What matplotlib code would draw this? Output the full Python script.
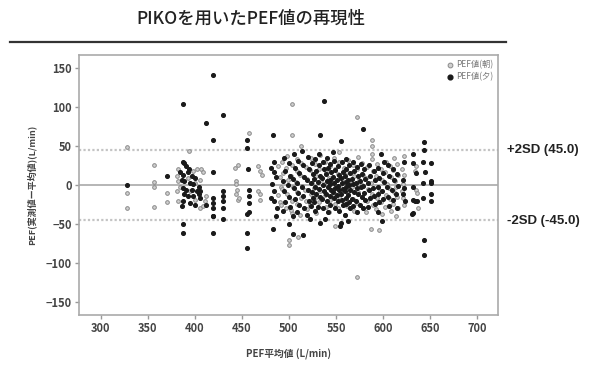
import matplotlib.pyplot as plt
from matplotlib.lines import Line2D

plt.rcParams['font.family'] = ['Noto Sans CJK JP', 'DejaVu Sans']

am_points = [  # PEF値(朝)
    (328, 49), (328, -10), (328, -29),
    (357, 26), (357, 4), (357, -2), (357, -28),
    (371, -10), (371, -22),
    (382, 20), (381, 11), (382, 5), (384, -2), (381, -8), (382, -21),
    (393, 9), (398, 18), (402, 20), (407, 20), (409, 16), (405, 7), (400, 3),
    (395, -8), (400, -19), (405, -29), (411, -21), (412, -14), (409, -27), (394, 44),
    (443, 22), (446, 26), (444, 5), (444, 1), (445, -6), (444, -12), (446, -19), (447, -16),
    (458, 67), (467, 24), (469, 18), (471, 13), (467, -8), (469, -12), (469, -19),
    (488, 24), (490, 10), (491, -3), (488, -13), (490, -22),
    (503, 104), (503, 64), (513, 50), (503, -36), (500, -70), (500, -77), (510, -66),
    (493, 30), (494, 15), (493, -5), (492, -25),
    (498, 37), (497, 22), (499, 6), (498, -12), (497, -30),
    (503, 26), (502, 11), (504, -3), (503, -20), (502, -32),
    (508, 33), (509, 18), (507, 4), (508, -9), (509, -24),
    (513, 28), (512, 13), (514, -1), (513, -16), (512, -38),
    (518, 23), (519, 8), (517, -6), (518, -21), (519, -31),
    (523, 34), (522, 19), (524, 2), (523, -11), (522, -26),
    (528, 27), (529, 12), (527, -4), (528, -17), (529, -36),
    (533, 38), (532, 21), (534, 7), (533, -8), (532, -22),
    (538, 30), (539, 16), (537, 1), (538, -13), (539, -28),
    (543, 24), (542, 9), (544, -5), (543, -19), (542, -34),
    (548, 35), (549, 20), (547, 4), (548, -10), (549, -24), (549, -52),
    (553, 29), (552, 14), (554, -2), (553, -15), (552, -30), (553, 42),
    (558, 22), (559, 8), (557, -7), (558, -21), (559, -38),
    (563, 32), (562, 17), (564, 3), (563, -12), (562, -27),
    (568, 26), (569, 11), (567, -3), (568, -18), (569, -33),
    (573, 36), (572, 20), (574, 6), (573, -9), (572, -23), (572, 87), (572, -117),
    (578, 28), (579, 13), (577, 0), (578, -15), (579, -29),
    (583, 23), (582, 9), (584, -5), (583, -20), (582, -35),
    (588, 33), (589, 18), (587, 2), (588, -11), (589, -26), (588, 58), (588, 50), (588, 39),
    (587, -56), (596, -57),
    (593, 27), (592, 12), (594, -3), (593, -17), (592, -31),
    (598, 21), (599, 7), (597, -8), (598, -22), (599, -37),
    (603, 30), (602, 16), (604, 1), (603, -13), (602, -28),
    (607, 24), (608, 10), (606, -4), (607, -18), (608, -33),
    (611, 34), (610, 19), (612, 5), (611, -9), (610, -24), (614, -40),
    (615, 27), (616, 13), (614, -2), (615, -15), (616, -29),
    (622, 37), (620, 20), (622, 13), (621, 1), (620, -8), (621, -16), (622, -25),
    (635, 24), (634, 18), (635, -6), (636, -10), (637, -29),
]

pm_points = [  # PEF値(夕)
    (328, 0), (371, 11),
    (387, 30), (389, 28), (391, 24), (394, 20), (384, 16), (388, 13), (393, 16),
    (397, 11), (400, 9), (386, 7), (389, 5), (395, 3), (398, 1), (404, -2),
    (388, -4), (391, -6), (397, -6), (402, -8), (405, -8), (389, -12), (393, -14),
    (398, -14), (404, -12), (405, -16), (388, -21), (395, -23), (386, -27), (400, -25),
    (388, 103), (388, -50), (388, -61),
    (419, 141), (412, 79), (419, 57), (419, 16), (419, -16), (419, -23), (419, -29),
    (419, -40), (412, -25), (419, -61), (419, -39),
    (430, 89), (430, -8), (430, -14), (430, -21), (430, -29), (430, -44),
    (455, 57), (455, 47), (456, 21), (458, -6), (458, -14), (458, -23), (458, -35),
    (455, -37), (455, -61), (455, -81),
    (483, 64), (481, 22), (484, 29), (484, 16), (486, 10), (482, 1), (484, -8),
    (481, -16), (484, -21), (487, -29), (486, -40), (483, -56),
    (500, -50), (504, -62), (515, -64), (522, -44), (533, -48), (538, -44),
    (537, 107), (533, 64), (555, 56), (579, 71), (598, 39), (555, -48), (563, -46),
    (554, -52), (599, -46), (632, -36),
    (495, 35), (496, 18), (494, 5), (495, -8), (496, -22), (494, -33),
    (500, 28), (501, 12), (499, 0), (500, -15), (501, -28),
    (505, 40), (506, 22), (504, 8), (505, -4), (506, -18), (504, -40),
    (510, 31), (511, 15), (509, 2), (510, -10), (511, -25), (509, -35),
    (515, 25), (516, 10), (514, -2), (515, -14), (516, -30), (514, 44),
    (520, 36), (521, 20), (519, 6), (520, -6), (521, -20), (519, -38),
    (524, 28), (525, 14), (523, 3), (524, -9), (525, -16), (523, -27),
    (528, 33), (529, 18), (527, 8), (528, -2), (529, -12), (527, -22), (528, -33),
    (532, 25), (533, 12), (531, 4), (532, -5), (533, -15), (531, -28), (532, 40),
    (536, 30), (537, 20), (535, 9), (536, 0), (537, -8), (535, -18), (536, -30),
    (540, 35), (541, 22), (539, 14), (540, 5), (541, -3), (539, -11), (540, -20), (541, -35),
    (544, 27), (545, 16), (543, 7), (544, 1), (545, -6), (543, -14), (544, -25),
    (548, 31), (549, 19), (547, 10), (548, 3), (549, -4), (547, -9), (548, -17), (549, -29), (547, 42),
    (552, 24), (553, 13), (551, 6), (552, -1), (553, -7), (551, -13), (552, -21), (553, -33),
    (556, 29), (557, 17), (555, 9), (556, 2), (557, -5), (555, -11), (556, -19), (557, -26),
    (560, 33), (561, 21), (559, 12), (560, 4), (561, -2), (559, -8), (560, -16), (561, -24), (559, -38),
    (564, 26), (565, 15), (563, 7), (564, 0), (565, -6), (563, -13), (564, -22), (565, -30),
    (568, 30), (569, 18), (567, 8), (568, 1), (569, -9), (567, -18), (568, -27),
    (572, 23), (573, 11), (571, 3), (572, -4), (573, -12), (571, -21), (572, -34),
    (576, 27), (577, 14), (575, 5), (576, -3), (577, -15), (575, -25),
    (580, 20), (581, 8), (579, -1), (580, -10), (581, -19), (579, -29),
    (585, 25), (586, 12), (584, 2), (585, -7), (586, -17), (584, -28),
    (590, 18), (591, 6), (589, -4), (590, -14), (591, -24),
    (595, 22), (596, 9), (594, -2), (595, -11), (596, -22), (594, -34),
    (600, 15), (601, 4), (599, -8), (600, -18), (601, 30),
    (605, 26), (606, 12), (604, -3), (605, -15), (606, -27),
    (610, 20), (611, 7), (609, -6), (610, -19),
    (615, 14), (616, -1), (614, -12), (615, -30),
    (622, 30), (621, 7), (622, -4), (621, -12), (623, -21),
    (632, 40), (632, 28), (642, 29), (651, 28), (644, 17), (635, 15),
    (632, -2), (642, 3), (651, 5), (651, 2), (632, -19), (634, -21), (636, -20),
    (642, -16), (651, -12), (651, -21), (631, -37),
    (643, 55), (643, 45), (643, -70), (643, -89),
]

xticks = [300, 350, 400, 450, 500, 550, 600, 650, 700]
yticks = [-150, -100, -50, 0, 50, 100, 150]
sd2 = 45.0

am_x, am_y = zip(*am_points)
pm_x, pm_y = zip(*pm_points)

fig = plt.figure(figsize=(5.98, 3.70), dpi=100)
ax = fig.add_axes([0.132, 0.149, 0.701, 0.702])

ax.axhline(0, color='#b0b0b0', lw=1.3, zorder=1)
ax.axhline(sd2, color='#c4c4c4', lw=1.6, ls=(0, (1, 1)), zorder=1)
ax.axhline(-sd2, color='#c4c4c4', lw=1.6, ls=(0, (1, 1)), zorder=1)

ax.scatter(am_x, am_y, s=7, facecolor='#d0d0d0', edgecolor='#8a8a8a', linewidth=0.7,
           zorder=3, label='PEF値(朝)')
ax.scatter(pm_x, pm_y, s=7, color='#1a1a1a', zorder=4, label='PEF値(夕)')

ax.set_xlim(277, 722)
ax.set_ylim(-166, 166)
ax.set_xticks(xticks)
ax.set_yticks(yticks)
ax.tick_params(length=3, width=1, color='#999999', labelsize=8, labelcolor='#444444', pad=2)
for lab in ax.get_xticklabels() + ax.get_yticklabels():
    lab.set_fontweight('bold')
for sp in ax.spines.values():
    sp.set_color('#aaaaaa')
    sp.set_linewidth(1.2)

ax.set_xlabel('PEF平均値 (L/min)', fontsize=7, fontweight='bold', color='#444444', labelpad=10)
ax.set_ylabel('PEF(実測値ー平均値)(L/min)', fontsize=6.5, fontweight='bold', color='#444444', labelpad=7)

ax.legend(loc='upper right', frameon=False, fontsize=6, borderaxespad=0.2, handletextpad=0.1,
          labelspacing=0.3, handlelength=1.2, labelcolor='#777777', markerscale=1.3)

side_font = ['Liberation Sans', 'DejaVu Sans']
ax.text(1.02, sd2, '+2SD (45.0)', transform=ax.get_yaxis_transform(), fontsize=9.5,
        va='center', ha='left', color='#222222', family=side_font, fontweight='bold')
ax.text(1.02, -sd2 - 1, '-2SD (-45.0)', transform=ax.get_yaxis_transform(), fontsize=9.5,
        va='center', ha='left', color='#222222', family=side_font, fontweight='bold')

fig.text(0.42, 0.95, 'PIKOを用いたPEF値の再現性', fontsize=12.5, ha='center', va='center',
         color='#222222', fontweight='medium')
fig.add_artist(Line2D([0.017, 0.846], [0.887, 0.887], color='#333333', lw=1.6))

fig.savefig('out.png', dpi=100)
